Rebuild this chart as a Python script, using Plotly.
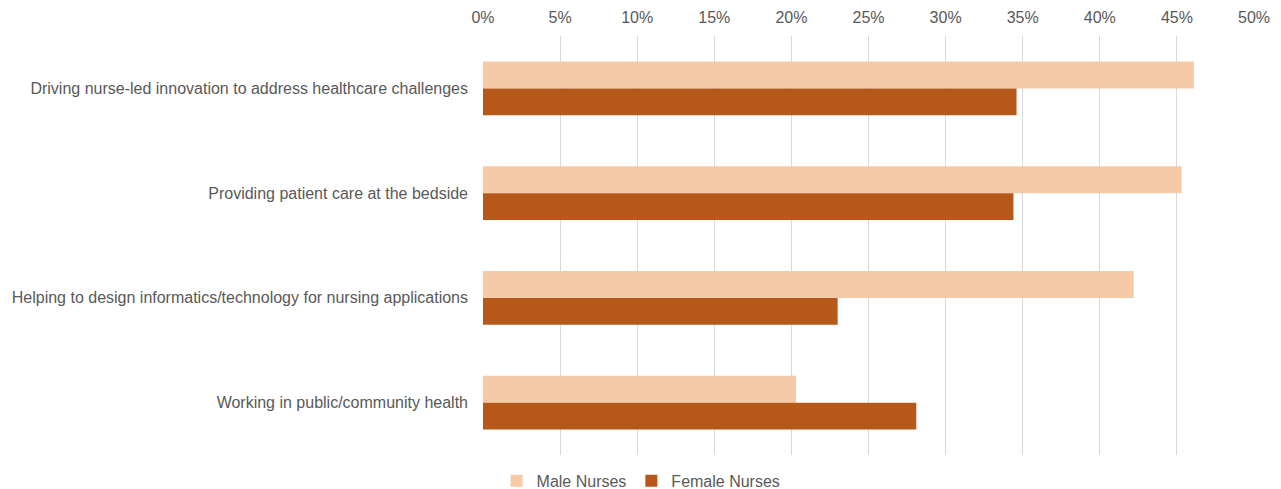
import plotly.graph_objects as go

categories = [
    "Driving nurse-led innovation to address healthcare challenges",
    "Providing patient care at the bedside",
    "Helping to design informatics/technology for nursing applications",
    "Working in public/community health",
]
male = [0.461, 0.453, 0.422, 0.203]
female = [0.346, 0.344, 0.230, 0.281]
tick_vals = [0, 0.05, 0.10, 0.15, 0.20, 0.25, 0.30, 0.35, 0.40, 0.45, 0.50]

fig = go.Figure()
fig.add_trace(go.Bar(y=categories, x=male, orientation="h", name="Male Nurses",
                     marker=dict(color="#F7CAA7", line=dict(width=0))))
fig.add_trace(go.Bar(y=categories, x=female, orientation="h", name="Female Nurses",
                     marker=dict(color="#B5581A", line=dict(width=0))))

font_family = "Liberation Sans, Arial, sans-serif"
fig.update_layout(
    width=1281, height=489,
    margin=dict(l=475, r=35, t=28, b=42, autoexpand=False),
    barmode="group", bargap=0.486, bargroupgap=0,
    plot_bgcolor="white", paper_bgcolor="white",
    font=dict(family=font_family, size=16, color="#595959"),
    showlegend=True,
    legend=dict(orientation="h", x=0.205, xanchor="center",
                yref="container", y=0.033, yanchor="middle",
                font=dict(size=16, color="#595959"), itemwidth=30, traceorder="normal"),
    xaxis=dict(side="top", range=[0, 0.5], tickvals=tick_vals, tickformat=".0%",
               showgrid=True, gridcolor="#D9D9D9", gridwidth=1, zeroline=False,
               showline=False, ticks="", automargin=False, ticklabelstandoff=9,
               tickfont=dict(size=16, color="#595959")),
    yaxis=dict(autorange="reversed", showgrid=False, showline=False, ticks="",
               automargin=False, ticklabelstandoff=14,
               tickfont=dict(size=16, color="#595959")),
)
fig.write_html("out.html")
